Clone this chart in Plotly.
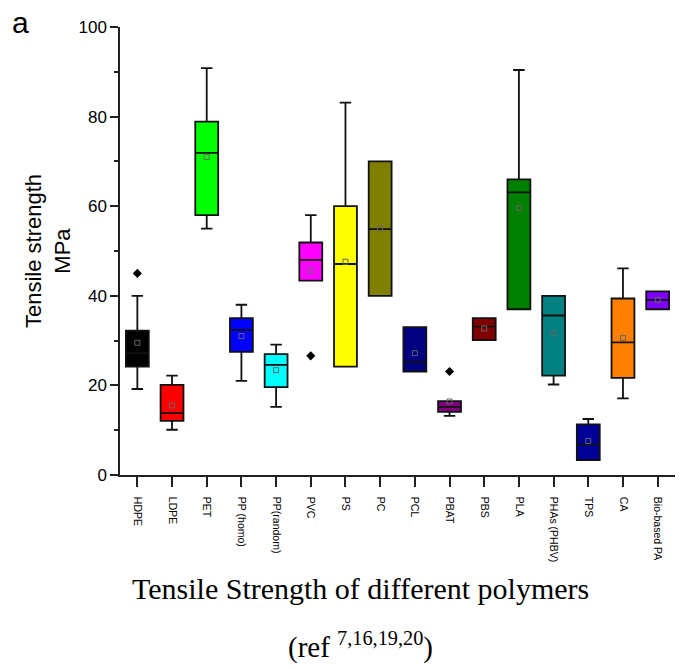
import plotly.graph_objects as go

# Polymer categories and box statistics (MPa)
polymers = ["HDPE", "LDPE", "PET", "PP (homo)", "PP(random)", "PVC", "PS", "PC",
            "PCL", "PBAT", "PBS", "PLA", "PHAs (PHBV)", "TPS", "CA", "Bio-based PA"]
lower = [19.2, 10.1, 55.0, 21.0, 15.2, 43.4, 24.2, 40.0,
         23.1, 13.2, 30.1, 37.0, 20.2, 3.3, 17.1, 37.0]
q1 = [24.2, 12.1, 58.0, 27.5, 19.6, 43.4, 24.2, 40.0,
      23.1, 14.1, 30.1, 37.0, 22.2, 3.3, 21.7, 37.0]
median = [27.2, 13.8, 71.9, 32.4, 24.6, 48.0, 47.1, 54.9,
          25.2, 15.2, 33.1, 63.1, 35.6, 6.8, 29.6, 39.1]
q3 = [32.2, 20.1, 78.9, 35.0, 27.0, 51.9, 60.0, 70.0,
      33.0, 16.5, 35.0, 66.0, 40.0, 11.3, 39.4, 41.0]
upper = [40.0, 22.2, 90.8, 38.0, 29.1, 58.0, 83.1, 70.0,
         33.0, 16.5, 35.0, 90.4, 40.0, 12.5, 46.1, 41.0]
mean = [29.5, 15.5, 71.0, 31.0, 23.4, 45.6, 47.6, 55.0,
        27.2, 16.4, 32.7, 59.6, 31.6, 7.6, 30.6, 39.1]

# Individual outlying points
outlier_x = ["HDPE", "PVC", "PBAT"]
outlier_y = [45.0, 26.6, 23.1]

colors = ["#000000", "#FF0000", "#00FF00", "#0000FF", "#00FFFF", "#FF00FF", "#FFFF00", "#808000",
          "#000080", "#800080", "#800000", "#008000", "#008080", "#000099", "#FF8000", "#8000FF"]

W, H = 680, 669
L, R, T, B = 120, 5, 27, 194


def paper_x(px):
    return (px - L) / (W - L - R)


def paper_y(py):
    return (H - B - py) / (H - T - B)


fig = go.Figure()

for i, name in enumerate(polymers):
    fig.add_trace(go.Box(
        x=[name], q1=[q1[i]], median=[median[i]], q3=[q3[i]],
        lowerfence=[lower[i]], upperfence=[upper[i]],
        fillcolor=colors[i], line=dict(color="#111111", width=1.8),
        width=0.66, whiskerwidth=0.5, boxpoints=False,
        showlegend=False, hoverinfo="skip",
    ))

# Mean markers
fig.add_trace(go.Scatter(
    x=polymers, y=mean, mode="markers",
    marker=dict(symbol="square-open", size=5, color="#666666", line=dict(width=1)),
    showlegend=False, hoverinfo="skip",
))

# Outliers
fig.add_trace(go.Scatter(
    x=outlier_x, y=outlier_y, mode="markers",
    marker=dict(symbol="diamond", size=7, color="#000000"),
    showlegend=False, hoverinfo="skip",
))

serif = "Liberation Serif"

fig.update_layout(
    width=W, height=H,
    margin=dict(l=L, r=R, t=T, b=B, autoexpand=False),
    paper_bgcolor="white", plot_bgcolor="white",
    boxmode="overlay",
    font=dict(family="Liberation Sans", color="#000000"),
    xaxis=dict(
        type="category", categoryorder="array", categoryarray=polymers,
        range=[-0.5, 15.5],
        showline=True, linecolor="#222222", linewidth=1.5,
        ticks="outside", ticklen=10, tickwidth=1.5, tickcolor="#222222",
        tickangle=90, tickfont=dict(size=10.5), ticklabelstandoff=8,
        showgrid=False, zeroline=False,
    ),
    yaxis=dict(
        range=[0, 100], dtick=20, tick0=0,
        showline=True, linecolor="#222222", linewidth=1.5,
        ticks="outside", ticklen=8, tickwidth=1.5, tickcolor="#222222",
        tickfont=dict(size=17),
        minor=dict(dtick=10, tick0=0, ticks="outside", ticklen=4, tickwidth=1.5,
                   tickcolor="#222222", showgrid=False),
        showgrid=False, zeroline=False,
        title=dict(text="Tensile strength<br>MPa", font=dict(size=22), standoff=2),
    ),
    annotations=[
        dict(text="a", x=paper_x(20), y=paper_y(22), xref="paper", yref="paper",
             showarrow=False, font=dict(size=30), xanchor="center", yanchor="middle"),
        dict(text="Tensile Strength of different polymers", x=paper_x(360), y=paper_y(588),
             xref="paper", yref="paper", showarrow=False,
             font=dict(family=serif, size=30, color="#000000"),
             xanchor="center", yanchor="middle"),
        dict(text="(ref <sup>7,16,19,20</sup>)", x=paper_x(360), y=paper_y(645),
             xref="paper", yref="paper", showarrow=False,
             font=dict(family=serif, size=29, color="#000000"),
             xanchor="center", yanchor="middle"),
    ],
)

fig.write_html("out.html")
